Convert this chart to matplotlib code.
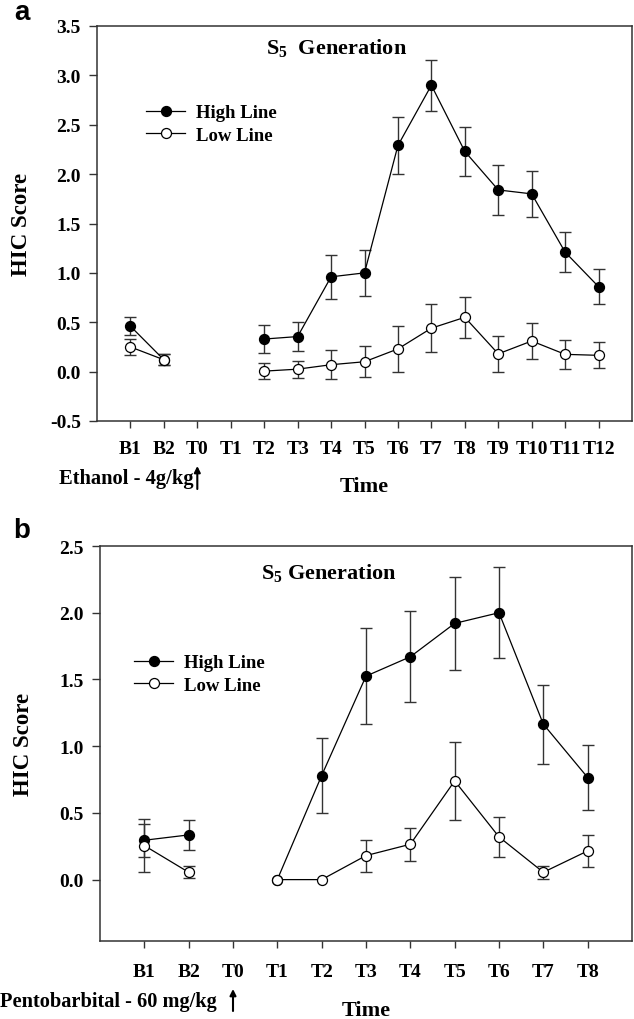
import numpy as np
import matplotlib
matplotlib.use('Agg')
import matplotlib.pyplot as plt
from matplotlib.transforms import blended_transform_factory

plt.rcParams['font.family'] = ['Liberation Serif', 'DejaVu Serif']
plt.rcParams['font.weight'] = 'bold'
plt.rcParams['axes.unicode_minus'] = False
plt.rcParams['mathtext.fontset'] = 'custom'
plt.rcParams['mathtext.rm'] = 'Liberation Serif:bold'
plt.rcParams['mathtext.bf'] = 'Liberation Serif:bold'
plt.rcParams['mathtext.it'] = 'Liberation Serif:bold'

nan = np.nan

# ---- Panel a: Ethanol ----
a_times = ['B1', 'B2', 'T0', 'T1', 'T2', 'T3', 'T4', 'T5', 'T6', 'T7',
           'T8', 'T9', 'T10', 'T11', 'T12']
a_high = [0.46, 0.12, nan, nan, 0.33, 0.355, 0.96, 1.00, 2.29, 2.90,
          2.23, 1.84, 1.80, 1.21, 0.86]
a_high_err = [0.09, 0.055, nan, nan, 0.14, 0.15, 0.225, 0.23, 0.29, 0.26,
              0.25, 0.25, 0.235, 0.205, 0.18]
a_low = [0.25, 0.12, nan, nan, 0.005, 0.025, 0.07, 0.10, 0.23, 0.44,
         0.55, 0.18, 0.31, 0.175, 0.165]
a_low_err = [0.08, 0.055, nan, nan, 0.08, 0.085, 0.145, 0.155, 0.23, 0.24,
             0.21, 0.185, 0.185, 0.15, 0.13]
a_yticks = [-0.5, 0.0, 0.5, 1.0, 1.5, 2.0, 2.5, 3.0, 3.5]

# ---- Panel b: Pentobarbital ----
b_times = ['B1', 'B2', 'T0', 'T1', 'T2', 'T3', 'T4', 'T5', 'T6', 'T7', 'T8']
b_high = [0.295, 0.335, nan, 0.0, 0.78, 1.525, 1.67, 1.92, 2.00, 1.165, 0.765]
b_high_err = [0.125, 0.113, nan, nan, 0.28, 0.357, 0.34, 0.35, 0.34, 0.295, 0.245]
b_low = [0.255, 0.055, nan, 0.0, 0.0, 0.18, 0.265, 0.74, 0.32, 0.055, 0.215]
b_low_err = [0.2, 0.045, nan, nan, nan, 0.12, 0.125, 0.29, 0.15, 0.05, 0.117]
b_yticks = [0.0, 0.5, 1.0, 1.5, 2.0, 2.5]

W, H = 634, 1020
fig = plt.figure(figsize=(W / 100, H / 100), dpi=100)


def ax_rect(l, r, t, b):
    return [l / W, 1 - b / H, (r - l) / W, (b - t) / H]


def draw_panel(ax, times, high, high_err, low, low_err, yticks, ylim, xpad):
    x = np.arange(len(times))
    for y, e in ((high, high_err), (low, low_err)):
        y = np.asarray(y, float)
        e = np.asarray(e, float)
        m = np.isfinite(y) & np.isfinite(e)
        ax.errorbar(x[m], y[m], yerr=e[m], fmt='none', ecolor='#333333',
                    elinewidth=1.0, capsize=4.5, capthick=1.0, zorder=2)
    hl, = ax.plot(x, high, '-o', color='black', lw=0.9, ms=7.2,
                  mfc='black', mec='black', mew=0.9, zorder=3, label='High Line')
    ll, = ax.plot(x, low, '-o', color='black', lw=0.9, ms=7.2,
                  mfc='white', mec='black', mew=0.9, zorder=4, label='Low Line')
    ax.set_xlim(-1, len(times))
    ax.set_ylim(*ylim)
    ax.set_xticks(x)
    ax.set_xticklabels(times)
    ax.set_yticks(yticks)
    ax.set_yticklabels(['%.1f' % v for v in yticks])
    ax.tick_params(axis='x', direction='out', length=5, width=1, pad=xpad,
                   labelsize=14, color='#333333')
    ax.tick_params(axis='y', direction='out', length=6, width=1, pad=5.5,
                   labelsize=14, color='#333333')
    for lab in ax.get_xticklabels() + ax.get_yticklabels():
        lab.set_fontweight('bold')
    for s in ax.spines.values():
        s.set_linewidth(1.1)
        s.set_color('#333333')
    ax.set_ylabel('HIC Score', fontsize=16.5, fontweight='bold')
    return hl, ll


# Panel a
ax1 = fig.add_axes(ax_rect(97, 632, 27, 422))
draw_panel(ax1, a_times, a_high, a_high_err, a_low, a_low_err, a_yticks,
           (-0.5, 3.5), 8.5)
ax1.yaxis.set_label_coords(-0.121, 0.5)
ax1.text(0.447, 0.947, r'$\mathbf{S_5}$  Generation', transform=ax1.transAxes,
         ha='center', va='center', fontsize=16, fontweight='bold')
ax1.legend(loc='center left', bbox_to_anchor=(146 / W, 1 - 125 / H),
           bbox_transform=fig.transFigure, frameon=False, fontsize=13.5,
           handlelength=2.1, handletextpad=0.55, labelspacing=0.3,
           borderpad=0, borderaxespad=0)
fig.text(364.5 / W, 1 - 487 / H, 'Time', ha='center', va='center',
         fontsize=16, fontweight='bold')
fig.text(59 / W, 1 - 479 / H, 'Ethanol - 4g/kg', ha='left', va='center',
         fontsize=14.8, fontweight='bold')
tr1 = blended_transform_factory(ax1.transData, fig.transFigure)
ax1.annotate('', xy=(2, 1 - 467 / H), xytext=(2, 1 - 490 / H),
             xycoords=tr1, textcoords=tr1,
             arrowprops=dict(arrowstyle='-|>', color='black', lw=1.5,
                             mutation_scale=9, shrinkA=0, shrinkB=0))
fig.text(22 / W, 1 - 13 / H, 'a', ha='center', va='center', fontsize=20,
         fontweight='bold', family=['Liberation Sans', 'DejaVu Sans'])

# Panel b
ax2 = fig.add_axes(ax_rect(100, 632, 547, 942))
draw_panel(ax2, b_times, b_high, b_high_err, b_low, b_low_err, b_yticks,
           (-0.46, 2.5), 10.5)
ax2.yaxis.set_label_coords(-0.124, 0.5)
ax2.text(0.43, 0.934, r'$\mathbf{S_5}$ Generation', transform=ax2.transAxes,
         ha='center', va='center', fontsize=16, fontweight='bold')
ax2.legend(loc='center left', bbox_to_anchor=(134 / W, 1 - 675 / H),
           bbox_transform=fig.transFigure, frameon=False, fontsize=13.5,
           handlelength=2.1, handletextpad=0.55, labelspacing=0.3,
           borderpad=0, borderaxespad=0)
fig.text(366 / W, 1 - 1011 / H, 'Time', ha='center', va='center',
         fontsize=16, fontweight='bold')
fig.text(0 / W, 1 - 1002 / H, 'Pentobarbital - 60 mg/kg', ha='left',
         va='center', fontsize=14.7, fontweight='bold')
tr2 = blended_transform_factory(ax2.transData, fig.transFigure)
ax2.annotate('', xy=(2, 1 - 990 / H), xytext=(2, 1 - 1012 / H),
             xycoords=tr2, textcoords=tr2,
             arrowprops=dict(arrowstyle='-|>', color='black', lw=1.5,
                             mutation_scale=9, shrinkA=0, shrinkB=0))
fig.text(22 / W, 1 - 531 / H, 'b', ha='center', va='center', fontsize=20,
         fontweight='bold', family=['Liberation Sans', 'DejaVu Sans'])

fig.savefig('out.png', dpi=100)
